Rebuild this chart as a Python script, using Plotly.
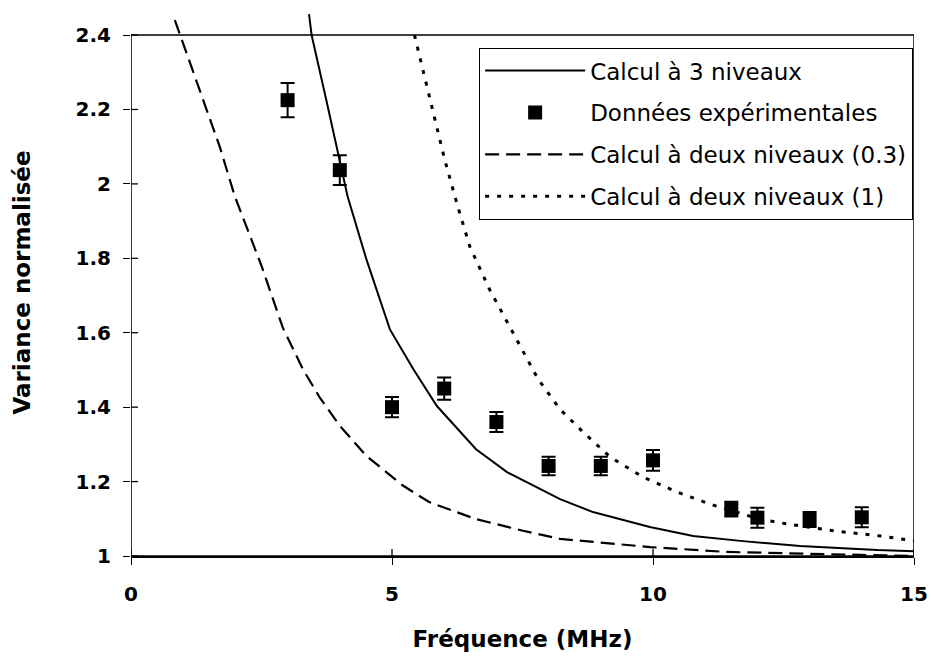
import plotly.graph_objects as go

# ---- data ----
freq_exp = [3, 4, 5, 6, 7, 8, 9, 10, 11.5, 12, 13, 14]
var_exp = [2.225, 2.037, 1.40, 1.45, 1.36, 1.242, 1.242, 1.257, 1.126, 1.103, 1.098, 1.104]
err_exp = [0.046, 0.040, 0.027, 0.030, 0.027, 0.025, 0.025, 0.028, 0.020, 0.027, 0.020, 0.027]

freq_3niv = [3.41, 3.46, 3.74, 3.96, 4.15, 4.51, 4.96, 5.41, 5.86, 6.61, 7.21, 8.22, 8.85,
             9.94, 10.77, 11.72, 12.82, 13.64, 14.3, 15]
var_3niv = [2.456, 2.4, 2.226, 2.083, 1.966, 1.797, 1.609, 1.502, 1.403, 1.287, 1.225, 1.153,
            1.118, 1.078, 1.054, 1.040, 1.027, 1.021, 1.016, 1.013]

freq_2niv_03 = [0.84, 0.94, 1.38, 1.70, 1.99, 2.5, 2.91, 3.3, 3.62, 4.0, 4.51, 4.82, 5.2, 5.71,
                6.61, 7.51, 8.22, 9.94, 11.4, 13.97, 15]
var_2niv_03 = [2.44, 2.4, 2.226, 2.10, 1.966, 1.78, 1.613, 1.50, 1.425, 1.35, 1.269, 1.233,
               1.19, 1.145, 1.099, 1.068, 1.046, 1.024, 1.011, 1.003, 1.0]

freq_2niv_1 = [5.43, 5.5, 5.72, 6.01, 6.26, 6.49, 6.87, 7.3, 7.8, 8.22, 8.66, 9.18, 9.81,
               10.46, 11.1, 12.05, 12.57, 13.5, 14.35, 15]
var_2niv_1 = [2.4, 2.36, 2.226, 2.065, 1.939, 1.832, 1.716, 1.603, 1.475, 1.394, 1.333, 1.266,
              1.212, 1.172, 1.139, 1.099, 1.086, 1.067, 1.054, 1.041]

x_ticks = [0, 5, 10, 15]
x_ticktext = ["0", "5", "10", "15"]
y_ticks = [1, 1.2, 1.4, 1.6, 1.8, 2, 2.2, 2.4]
y_ticktext = ["1", "1.2", "1.4", "1.6", "1.8", "2", "2.2", "2.4"]

names = ["Calcul à 3 niveaux", "Données expérimentales",
         "Calcul à deux niveaux (0.3)", "Calcul à deux niveaux (1)"]

fig = go.Figure()

fig.add_trace(go.Scatter(x=freq_3niv, y=var_3niv, mode="lines", name=names[0],
                         line=dict(color="black", width=2), legendgroup="a"))
fig.add_trace(go.Scatter(x=freq_exp, y=var_exp, mode="markers", name=names[1],
                         marker=dict(symbol="square", size=14, color="black"),
                         error_y=dict(type="data", array=err_exp, visible=True,
                                      color="black", thickness=2, width=7),
                         legendgroup="b"))
fig.add_trace(go.Scatter(x=freq_2niv_03, y=var_2niv_03, mode="lines", name=names[2],
                         line=dict(color="black", width=2.2, dash="14px,7px"),
                         legendgroup="c"))
fig.add_trace(go.Scatter(x=freq_2niv_1, y=var_2niv_1, mode="lines", name=names[3],
                         line=dict(color="black", width=3, dash="4px,8px"),
                         legendgroup="d"))

# plot frame (stops at 2.4, curves may run above it)
fig.add_shape(type="rect", xref="x", yref="y", x0=0, x1=15, y0=1, y1=2.4,
              line=dict(color="black", width=1.5), layer="above")

# crossing tick marks (inner halves)
for v in y_ticks:
    fig.add_shape(type="line", xref="x", yref="y", xsizemode="pixel", xanchor=0,
                  x0=0, x1=7, y0=v, y1=v, line=dict(color="black", width=1.3))
for v in x_ticks:
    fig.add_shape(type="line", xref="x", yref="y", ysizemode="pixel", yanchor=1,
                  x0=v, x1=v, y0=0, y1=7, line=dict(color="black", width=1.3))

fig.update_layout(
    width=931, height=659,
    margin=dict(l=131, r=17, t=9, b=103, autoexpand=False),
    paper_bgcolor="white", plot_bgcolor="white",
    showlegend=True,
    legend=dict(x=0.9985, xanchor="right", y=0.929, yanchor="top",
                bordercolor="black", borderwidth=1.3, bgcolor="white",
                font=dict(family="DejaVu Sans", size=23, color="black"),
                itemwidth=100, tracegroupgap=9, traceorder="grouped"),
    xaxis=dict(range=[0, 15], tickvals=x_ticks, ticktext=x_ticktext,
               showgrid=False, zeroline=False, showline=True, linecolor="black", linewidth=1.5,
               ticks="outside", ticklen=7, tickwidth=1.3, tickcolor="black",
               ticklabelstandoff=12,
               tickfont=dict(family="DejaVu Sans", size=20, color="black", weight="bold"),
               title=dict(text="Fréquence (MHz)", standoff=26,
                          font=dict(family="DejaVu Sans", size=23, color="black", weight="bold"))),
    yaxis=dict(range=[1, 2.47], tickvals=y_ticks, ticktext=y_ticktext,
               showgrid=False, zeroline=False, showline=False,
               ticks="outside", ticklen=7, tickwidth=1.3, tickcolor="black",
               ticklabelstandoff=8,
               tickfont=dict(family="DejaVu Sans", size=20, color="black", weight="bold"),
               title=dict(text="Variance normalisée", standoff=38,
                          font=dict(family="DejaVu Sans", size=23, color="black", weight="bold"))),
)

fig.write_html("out.html", config={"displayModeBar": False},
               post_script="document.body.style.margin='0';")
